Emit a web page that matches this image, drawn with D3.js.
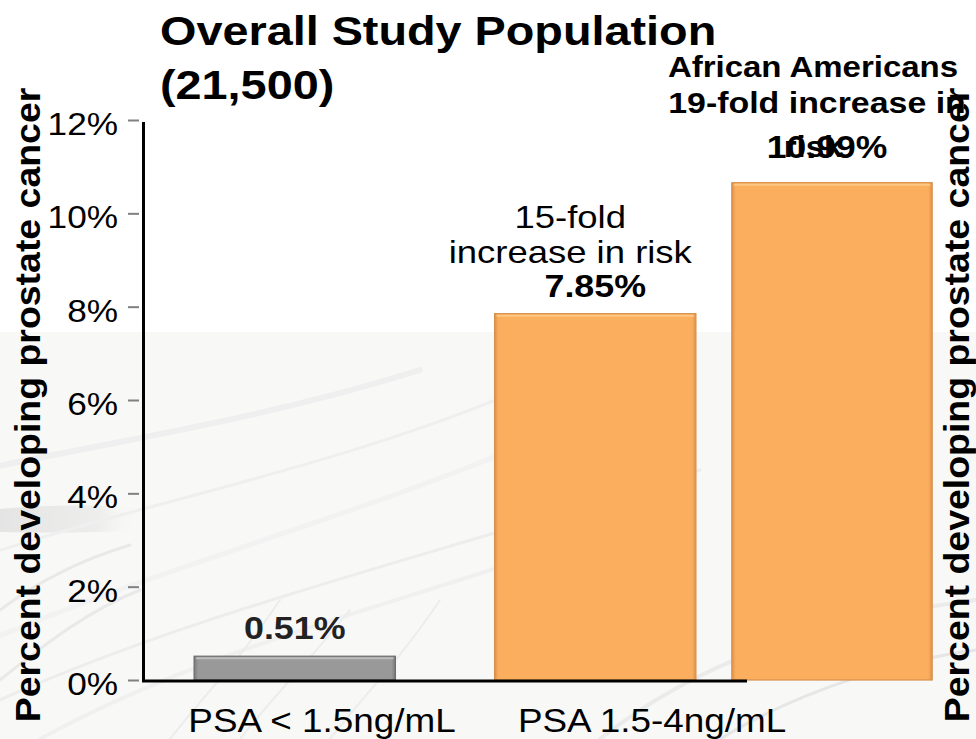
<!DOCTYPE html>
<html>
<head>
<meta charset="utf-8">
<script src="https://cdn.jsdelivr.net/npm/d3@7/dist/d3.min.js"></script>
<style>
  html, body { margin: 0; padding: 0; background: #ffffff; }
  svg { display: block; font-family: "Liberation Sans", Arial, Helvetica, sans-serif; }
</style>
</head>
<body>
<svg id="chart" width="976" height="739"></svg>
<script>
// ---- data ----
const categories = ["PSA < 1.5ng/mL", "PSA 1.5-4ng/mL"];
const overallValues = [0.51, 7.85];            // % developing prostate cancer, overall study population
const africanAmericanCategory = ["PSA 1.5-4ng/mL"];
const africanAmericanValues = [10.99];         // % for African Americans in the same PSA range
const yTickValues = [0, 2, 4, 6, 8, 10, 12];
const titleLines = ["Overall Study Population", "(21,500)"];
const riskNote = ["15-fold", "increase in risk"];
const aaNote = ["African Americans", "19-fold increase in", "risk"];
const yAxisTitle = "Percent developing prostate cancer";

// ---- layout ----
const W = 976, H = 739;
const svg = d3.select("#chart");
const defs = svg.append("defs");

// slide background: white top, soft grey lower part with faint swooshes
svg.append("rect").attr("width", W).attr("height", H).attr("fill", "#ffffff");
svg.append("rect").attr("x", 0).attr("y", 332).attr("width", W).attr("height", H - 332).attr("fill", "#f8f8f7");
const smear = defs.append("linearGradient").attr("id", "smear").attr("x1", 0).attr("x2", 1).attr("y1", 0).attr("y2", 0);
[[0, "#dcdcdc", 0.7], [0.7, "#e2e2e2", 0.5], [1, "#f8f8f7", 0]].forEach(([o, c, a]) =>
  smear.append("stop").attr("offset", o).attr("stop-color", c).attr("stop-opacity", a));
svg.append("path").attr("d", "M0,509 C40,505 100,504 140,508 L140,530 C100,533 40,533 0,532 Z").attr("fill", "url(#smear)");
const swoosh = svg.append("g").attr("fill", "none").attr("stroke-linecap", "round");
[
  ["M-20,470 C120,440 260,420 420,370", "#efefef", 6],
  ["M-30,560 C150,500 330,470 520,390", "#efefef", 3],
  ["M0,700 C200,610 420,560 700,470", "#ededed", 3],
  ["M40,739 C220,640 420,600 640,520", "#f0f0f0", 4],
  ["M-10,640 C180,560 350,520 560,430", "#f2f2f2", 5],
  ["M600,739 C700,660 820,620 976,600", "#ebebeb", 4],
  ["M720,739 C800,690 900,660 976,650", "#e6e6e6", 3],
  ["M170,739 C200,700 240,660 280,600", "#ececec", 2],
  ["M240,739 C270,700 310,660 350,610", "#ececec", 2],
  ["M330,739 C360,700 400,660 440,600", "#ededed", 2],
  ["M0,610 C40,580 80,560 130,545", "#e9e9e9", 3],
  ["M0,680 C50,640 90,610 140,590", "#e9e9e9", 3]
].forEach(([d, c, w]) => swoosh.append("path").attr("d", d).attr("stroke", c).attr("stroke-width", w));

// text helper with horizontal glyph stretch
function label(parent, x, y, s, opts = {}) {
  const { size = 32, weight = "normal", anchor = "start", rotate = 0, sx = 1.1, fill = "#000" } = opts;
  const g = parent.append("g")
    .attr("transform", `translate(${x},${y})` + (rotate ? ` rotate(${rotate})` : "") + ` scale(${sx},1)`);
  g.append("text")
    .attr("text-anchor", anchor)
    .attr("font-size", size)
    .attr("font-weight", weight)
    .attr("fill", fill)
    .text(s);
  return g;
}

// ---- scales ----
const y = d3.scaleLinear().domain([0, 12]).range([680, 120]);
const x = d3.scaleBand().domain(categories).range([143, 747]).paddingInner(0.33).paddingOuter(0.17);
// category names sit on their own band positions under the axis
const xLabel = d3.scaleBand().domain(categories).range([157, 817]);
// second panel (African Americans) has its own vertical scale
const yAA = d3.scaleLinear().domain([0, 12]).range([680, 137]);
const xAA = d3.scaleBand().domain(africanAmericanCategory).range([712, 952]).padding(0.09);

// gradients for bevelled bars
function bevel(id, edge, face) {
  const gr = defs.append("linearGradient").attr("id", id).attr("x1", 0).attr("x2", 1).attr("y1", 0).attr("y2", 0);
  [[0, edge], [0.02, face], [0.98, face], [1, edge]].forEach(([o, c]) =>
    gr.append("stop").attr("offset", o).attr("stop-color", c));
}
bevel("gGrey", "#7a7a7a", "#999999");
bevel("gOrange", "#e0944a", "#fbae5e");

// ---- y axis ----
const yAxis = d3.axisLeft(y).tickValues(yTickValues).tickFormat(d => d + "%").tickSize(11).tickPadding(0);
const ya = svg.append("g").attr("transform", "translate(139,0)").call(yAxis);
ya.select(".domain").remove();
ya.selectAll(".tick line").attr("stroke", "#808080").attr("stroke-width", 2);
ya.selectAll(".tick text")
  .attr("font-size", 32)
  .attr("font-family", "Liberation Sans, Arial, sans-serif")
  .attr("fill", "#000")
  .attr("x", -21 / 1.1)
  .attr("dy", "0.45em")
  .attr("transform", "scale(1.1,1)");
svg.append("line").attr("x1", 143.5).attr("x2", 143.5).attr("y1", y(12) + 2).attr("y2", y(0) + 2)
  .attr("stroke", "#000").attr("stroke-width", 3);

// ---- bars: overall population ----
const bars = svg.append("g");
categories.forEach((c, i) => {
  const v = overallValues[i];
  const grey = i === 0;
  bars.append("rect")
    .attr("x", x(c)).attr("y", y(v))
    .attr("width", x.bandwidth()).attr("height", y(0) - y(v))
    .attr("fill", grey ? "url(#gGrey)" : "url(#gOrange)")
    .attr("stroke", grey ? "#6d6d6d" : "#d58f4c").attr("stroke-width", 1.2);
  bars.append("line")
    .attr("x1", x(c) + 2).attr("x2", x(c) + x.bandwidth() - 2)
    .attr("y1", y(v) + 2).attr("y2", y(v) + 2)
    .attr("stroke", grey ? "#bdbdbd" : "#fcc683").attr("stroke-width", 2);
  label(svg, x(c) + x.bandwidth() / 2, y(v) - 17, v.toFixed(2) + "%",
    { size: 32, weight: "bold", anchor: "middle", sx: 1.12, fill: grey ? "#222" : "#000" });
});

// ---- bar: African Americans ----
africanAmericanCategory.forEach((c, i) => {
  const v = africanAmericanValues[i];
  bars.append("rect")
    .attr("x", xAA(c)).attr("y", yAA(v))
    .attr("width", xAA.bandwidth()).attr("height", yAA(0) - yAA(v))
    .attr("fill", "url(#gOrange)")
    .attr("stroke", "#d58f4c").attr("stroke-width", 1.2);
  bars.append("line")
    .attr("x1", xAA(c) + 2).attr("x2", xAA(c) + xAA.bandwidth() - 2)
    .attr("y1", yAA(v) + 2).attr("y2", yAA(v) + 2)
    .attr("stroke", "#fcc683").attr("stroke-width", 2);
  label(svg, xAA(c) + xAA.bandwidth() / 2 - 5, yAA(v) - 25, v.toFixed(2) + "%",
    { size: 32, weight: "bold", anchor: "middle", sx: 1.11 });
});

// ---- x axis ----
svg.append("line").attr("x1", 142).attr("x2", x.range()[1]).attr("y1", 681).attr("y2", 681)
  .attr("stroke", "#000").attr("stroke-width", 3);
categories.forEach(c => label(svg, xLabel(c) + xLabel.bandwidth() / 2, 732, c,
  { size: 33.5, anchor: "middle", sx: 1.1 }));

// ---- annotations ----
const c2 = x(categories[1]) + x.bandwidth() / 2;
label(svg, c2 - 25, 228, riskNote[0], { size: 32, anchor: "middle", sx: 1.14 });
label(svg, c2 - 25, 263, riskNote[1], { size: 32, anchor: "middle", sx: 1.14 });

const cAA = xAA(africanAmericanCategory[0]) + xAA.bandwidth() / 2 - 19;
label(svg, cAA, 77, aaNote[0], { size: 30, weight: "bold", anchor: "middle", sx: 1.1 });
label(svg, cAA + 4, 113, aaNote[1], { size: 30, weight: "bold", anchor: "middle", sx: 1.13 });
label(svg, cAA, 157, aaNote[2], { size: 30, weight: "bold", anchor: "middle", sx: 1.1 });

// ---- titles ----
label(svg, 160, 45, titleLines[0], { size: 40, weight: "bold", sx: 1.17 });
label(svg, 160, 99, titleLines[1], { size: 40, weight: "bold", sx: 1.17 });

// ---- y axis titles (left panel and the overlapping right panel) ----
label(svg, 40, 405, yAxisTitle, { size: 35, weight: "bold", anchor: "middle", rotate: -90, sx: 1.07 });
label(svg, 969, 405, yAxisTitle, { size: 35, weight: "bold", anchor: "middle", rotate: -90, sx: 1.07 });
</script>
</body>
</html>
